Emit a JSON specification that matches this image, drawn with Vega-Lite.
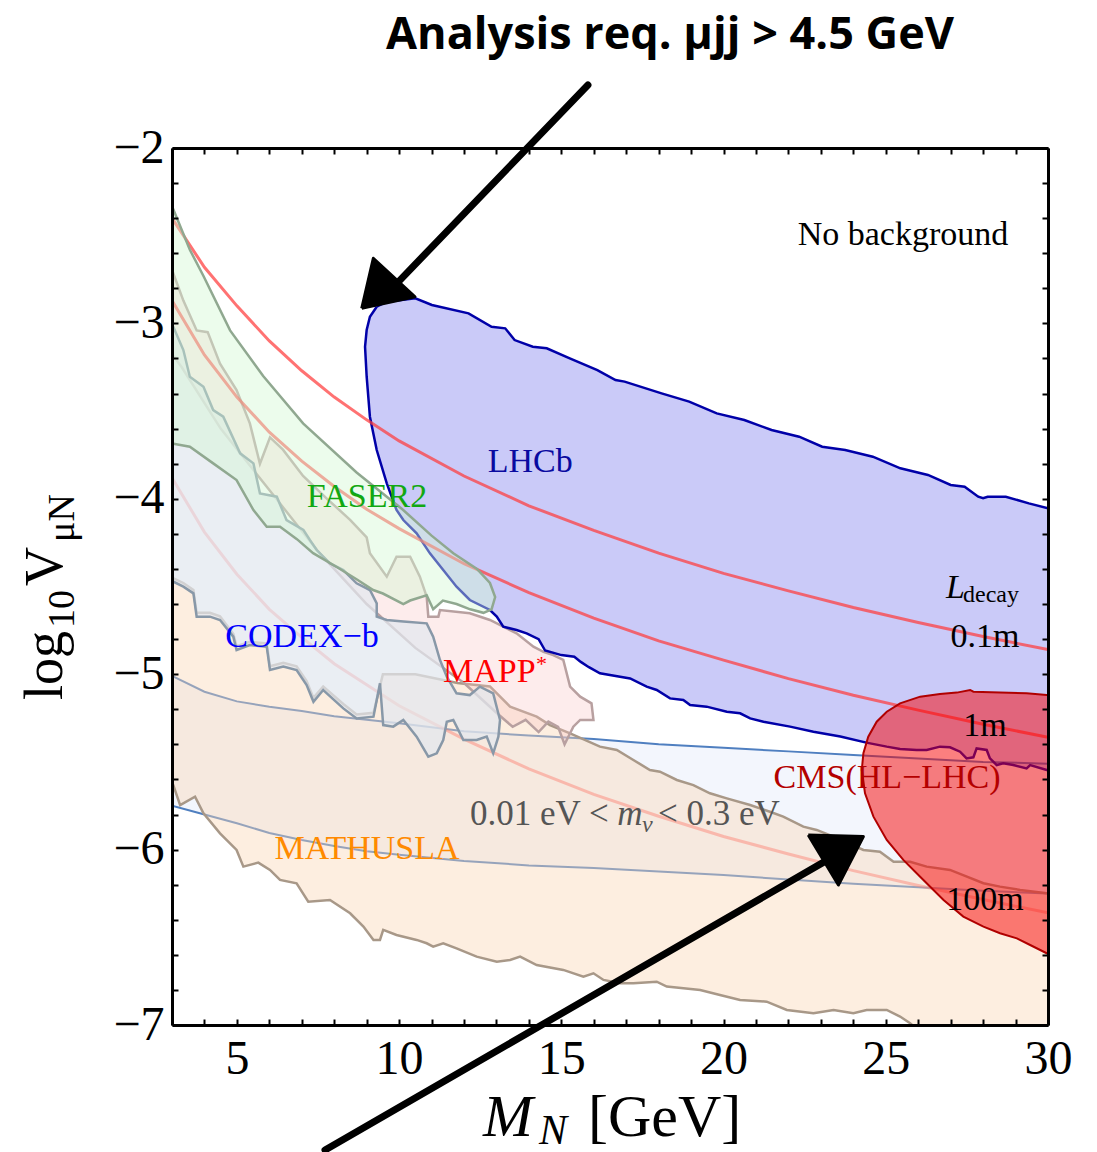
{
"$schema": "https://vega.github.io/schema/vega-lite/v6.json",
"width": 876, "height": 877,
"autosize": {"type": "none"},
"padding": {"left": 172, "top": 148, "right": 49, "bottom": 127},
"background": "white",
"config": {"view": {"stroke": null}, "font": "Liberation Serif"},
"resolve": {"axis": {"x": "independent", "y": "independent"}},
"datasets": {
"band": [
{"x":3,"y":-5.75,"y2":-5.01},{"x":4,"y":-5.80,"y2":-5.10},{"x":5,"y":-5.85,"y2":-5.155},{"x":6,"y":-5.905,"y2":-5.185},{"x":7,"y":-5.945,"y2":-5.21},{"x":8,"y":-5.98,"y2":-5.24},{"x":9,"y":-6.01,"y2":-5.26},{"x":10,"y":-6.03,"y2":-5.28},{"x":12,"y":-6.065,"y2":-5.325},{"x":14,"y":-6.09,"y2":-5.35},{"x":16,"y":-6.105,"y2":-5.37},{"x":18,"y":-6.125,"y2":-5.40},{"x":20,"y":-6.145,"y2":-5.42},{"x":22,"y":-6.17,"y2":-5.44},{"x":24,"y":-6.195,"y2":-5.46},{"x":26,"y":-6.215,"y2":-5.48},{"x":28,"y":-6.235,"y2":-5.50},{"x":30,"y":-6.25,"y2":-5.51}],
"curves": [
{"c":"0.1m","x":3,"y":-2.40},{"c":"0.1m","x":4,"y":-2.68},{"c":"0.1m","x":5,"y":-2.90},{"c":"0.1m","x":6,"y":-3.10},{"c":"0.1m","x":7,"y":-3.27},{"c":"0.1m","x":8,"y":-3.42},{"c":"0.1m","x":9,"y":-3.55},{"c":"0.1m","x":10,"y":-3.67},{"c":"0.1m","x":12,"y":-3.87},{"c":"0.1m","x":14,"y":-4.04},{"c":"0.1m","x":16,"y":-4.18},{"c":"0.1m","x":18,"y":-4.31},{"c":"0.1m","x":20,"y":-4.425},{"c":"0.1m","x":22,"y":-4.525},{"c":"0.1m","x":24,"y":-4.62},{"c":"0.1m","x":26,"y":-4.705},{"c":"0.1m","x":28,"y":-4.785},{"c":"0.1m","x":30,"y":-4.86},
{"c":"1m","x":3,"y":-2.87},{"c":"1m","x":4,"y":-3.18},{"c":"1m","x":5,"y":-3.42},{"c":"1m","x":6,"y":-3.62},{"c":"1m","x":7,"y":-3.785},{"c":"1m","x":8,"y":-3.93},{"c":"1m","x":9,"y":-4.06},{"c":"1m","x":10,"y":-4.17},{"c":"1m","x":12,"y":-4.37},{"c":"1m","x":14,"y":-4.535},{"c":"1m","x":16,"y":-4.68},{"c":"1m","x":18,"y":-4.81},{"c":"1m","x":20,"y":-4.92},{"c":"1m","x":22,"y":-5.025},{"c":"1m","x":24,"y":-5.12},{"c":"1m","x":26,"y":-5.205},{"c":"1m","x":28,"y":-5.285},{"c":"1m","x":30,"y":-5.36},
{"c":"100m","x":3,"y":-3.88},{"c":"100m","x":4,"y":-4.19},{"c":"100m","x":5,"y":-4.43},{"c":"100m","x":6,"y":-4.63},{"c":"100m","x":7,"y":-4.79},{"c":"100m","x":8,"y":-4.94},{"c":"100m","x":9,"y":-5.06},{"c":"100m","x":10,"y":-5.18},{"c":"100m","x":12,"y":-5.37},{"c":"100m","x":14,"y":-5.54},{"c":"100m","x":16,"y":-5.685},{"c":"100m","x":18,"y":-5.81},{"c":"100m","x":20,"y":-5.925},{"c":"100m","x":22,"y":-6.025},{"c":"100m","x":24,"y":-6.12},{"c":"100m","x":26,"y":-6.205},{"c":"100m","x":28,"y":-6.285},{"c":"100m","x":30,"y":-6.36}],
"lhcb": [
{"i":0,"x":9.31,"y":-2.905},{"i":1,"x":9.62,"y":-2.876},{"i":2,"x":10.13,"y":-2.865},{"i":3,"x":10.5,"y":-2.857},{"i":4,"x":11.01,"y":-2.895},{"i":5,"x":12.14,"y":-2.943},{"i":6,"x":12.85,"y":-3.019},{"i":7,"x":13.27,"y":-3.028},{"i":8,"x":13.56,"y":-3.095},{"i":9,"x":14.12,"y":-3.133},{"i":10,"x":14.55,"y":-3.142},{"i":11,"x":15.26,"y":-3.199},{"i":12,"x":16.11,"y":-3.266},{"i":13,"x":16.67,"y":-3.323},{"i":14,"x":16.95,"y":-3.332},{"i":15,"x":18.09,"y":-3.399},{"i":16,"x":18.94,"y":-3.446},{"i":17,"x":19.79,"y":-3.513},{"i":18,"x":20.64,"y":-3.551},{"i":19,"x":21.48,"y":-3.608},{"i":20,"x":22.33,"y":-3.646},{"i":21,"x":23.04,"y":-3.703},{"i":22,"x":23.75,"y":-3.722},{"i":23,"x":24.6,"y":-3.76},{"i":24,"x":25.45,"y":-3.826},{"i":25,"x":26.3,"y":-3.864},{"i":26,"x":27.0,"y":-3.921},{"i":27,"x":27.43,"y":-3.931},{"i":28,"x":27.85,"y":-3.988},{"i":29,"x":28.0,"y":-3.997},{"i":30,"x":28.14,"y":-3.988},{"i":31,"x":28.7,"y":-3.988},{"i":32,"x":29.41,"y":-4.026},{"i":33,"x":30.0,"y":-4.054},{"i":34,"x":30.4,"y":-4.07},{"i":35,"x":30.4,"y":-5.55},
{"i":36,"x":29.96,"y":-5.546},{"i":37,"x":29.45,"y":-5.518},{"i":38,"x":29.34,"y":-5.537},{"i":39,"x":28.93,"y":-5.518},{"i":40,"x":28.62,"y":-5.508},{"i":41,"x":28.42,"y":-5.518},{"i":42,"x":28.21,"y":-5.48},{"i":43,"x":28.11,"y":-5.432},{"i":44,"x":27.8,"y":-5.423},{"i":45,"x":27.7,"y":-5.474},{"i":46,"x":27.49,"y":-5.48},{"i":47,"x":27.29,"y":-5.442},{"i":48,"x":26.98,"y":-5.417},{"i":49,"x":26.67,"y":-5.413},{"i":50,"x":26.26,"y":-5.432},{"i":51,"x":25.95,"y":-5.432},{"i":52,"x":25.44,"y":-5.426},{"i":53,"x":25.03,"y":-5.413},{"i":54,"x":24.4,"y":-5.39},{"i":55,"x":23.6,"y":-5.355},{"i":56,"x":22.77,"y":-5.328},{"i":57,"x":22.05,"y":-5.299},{"i":58,"x":21.23,"y":-5.271},{"i":59,"x":20.82,"y":-5.252},{"i":60,"x":20.51,"y":-5.223},{"i":61,"x":20.1,"y":-5.214},{"i":62,"x":19.48,"y":-5.185},{"i":63,"x":18.97,"y":-5.176},{"i":64,"x":18.76,"y":-5.147},{"i":65,"x":18.35,"y":-5.138},{"i":66,"x":17.94,"y":-5.09},{"i":67,"x":17.63,"y":-5.071},{"i":68,"x":17.12,"y":-5.024},{"i":69,"x":16.81,"y":-5.014},{"i":70,"x":16.19,"y":-4.995},{"i":71,"x":15.85,"y":-4.96},{"i":72,"x":15.6,"y":-4.93},{"i":73,"x":15.4,"y":-4.9},{"i":74,"x":15.0,"y":-4.891},{"i":75,"x":14.5,"y":-4.865},{"i":76,"x":14.3,"y":-4.8},{"i":77,"x":13.93,"y":-4.767},{"i":78,"x":13.62,"y":-4.748},{"i":79,"x":13.21,"y":-4.729},{"i":80,"x":13.01,"y":-4.672},{"i":81,"x":12.8,"y":-4.634},{"i":82,"x":12.18,"y":-4.577},{"i":83,"x":11.77,"y":-4.501},{"i":84,"x":11.36,"y":-4.406},{"i":85,"x":10.95,"y":-4.311},{"i":86,"x":10.54,"y":-4.197},{"i":87,"x":10.13,"y":-4.121},{"i":88,"x":9.92,"y":-4.064},{"i":89,"x":9.62,"y":-3.912},{"i":90,"x":9.31,"y":-3.722},{"i":91,"x":9.1,"y":-3.532},{"i":92,"x":9.0,"y":-3.304},{"i":93,"x":8.95,"y":-3.133},{"i":94,"x":9.0,"y":-3.038},{"i":95,"x":9.1,"y":-2.962},{"i":96,"x":9.31,"y":-2.905}],
"cms": [
{"i":0,"x":30.4,"y":-5.115},{"i":1,"x":29.96,"y":-5.119},{"i":2,"x":29.34,"y":-5.109},{"i":3,"x":28.52,"y":-5.105},{"i":4,"x":27.7,"y":-5.1},{"i":5,"x":27.6,"y":-5.09},{"i":6,"x":27.19,"y":-5.105},{"i":7,"x":26.67,"y":-5.113},{"i":8,"x":26.06,"y":-5.128},{"i":9,"x":25.44,"y":-5.166},{"i":10,"x":25.03,"y":-5.214},{"i":11,"x":24.72,"y":-5.271},{"i":12,"x":24.46,"y":-5.356},{"i":13,"x":24.31,"y":-5.451},{"i":14,"x":24.26,"y":-5.546},{"i":15,"x":24.36,"y":-5.679},{"i":16,"x":24.62,"y":-5.812},{"i":17,"x":25.03,"y":-5.945},{"i":18,"x":25.54,"y":-6.059},{"i":19,"x":26.16,"y":-6.173},{"i":20,"x":26.78,"y":-6.287},{"i":21,"x":27.39,"y":-6.382},{"i":22,"x":28.01,"y":-6.439},{"i":23,"x":28.52,"y":-6.477},{"i":24,"x":29.04,"y":-6.506},{"i":25,"x":29.45,"y":-6.544},{"i":26,"x":29.96,"y":-6.591},{"i":27,"x":30.4,"y":-6.63},{"i":28,"x":30.4,"y":-5.115}],
"math": [
{"i":0,"x":2.9,"y":-4.44},{"i":1,"x":3.35,"y":-4.48},{"i":2,"x":3.66,"y":-4.52},{"i":3,"x":3.76,"y":-4.65},{"i":4,"x":4.17,"y":-4.65},{"i":5,"x":4.48,"y":-4.67},{"i":6,"x":4.89,"y":-4.77},{"i":7,"x":4.99,"y":-4.84},{"i":8,"x":5.4,"y":-4.815},{"i":9,"x":5.92,"y":-4.825},{"i":10,"x":6.02,"y":-4.955},{"i":11,"x":6.43,"y":-4.935},{"i":12,"x":6.84,"y":-4.955},{"i":13,"x":7.15,"y":-5.04},{"i":14,"x":7.36,"y":-5.135},{"i":15,"x":7.66,"y":-5.07},{"i":16,"x":8.28,"y":-5.17},{"i":17,"x":8.69,"y":-5.23},{"i":18,"x":9.21,"y":-5.22},{"i":19,"x":9.5,"y":-5.0},{"i":20,"x":10.5,"y":-5.0},{"i":21,"x":11.8,"y":-5.05},{"i":22,"x":12.8,"y":-5.07},{"i":23,"x":13.42,"y":-5.185},{"i":24,"x":14.24,"y":-5.242},{"i":25,"x":14.65,"y":-5.29},{"i":26,"x":15.27,"y":-5.337},{"i":27,"x":16.19,"y":-5.413},{"i":28,"x":16.71,"y":-5.432},{"i":29,"x":17.22,"y":-5.489},{"i":30,"x":17.73,"y":-5.546},{"i":31,"x":18.04,"y":-5.556},{"i":32,"x":18.56,"y":-5.603},{"i":33,"x":19.07,"y":-5.632},{"i":34,"x":19.58,"y":-5.679},{"i":35,"x":20.1,"y":-5.708},{"i":36,"x":20.82,"y":-5.746},{"i":37,"x":21.43,"y":-5.784},{"i":38,"x":21.84,"y":-5.812},{"i":39,"x":22.46,"y":-5.869},{"i":40,"x":22.87,"y":-5.888},{"i":41,"x":23.39,"y":-5.926},{"i":42,"x":23.8,"y":-5.96},{"i":43,"x":24.31,"y":-6.002},{"i":44,"x":24.82,"y":-6.012},{"i":45,"x":25.24,"y":-6.069},{"i":46,"x":25.75,"y":-6.069},{"i":47,"x":26.26,"y":-6.097},{"i":48,"x":26.98,"y":-6.116},{"i":49,"x":27.5,"y":-6.154},{"i":50,"x":28.01,"y":-6.192},{"i":51,"x":28.52,"y":-6.211},{"i":52,"x":29.14,"y":-6.23},{"i":53,"x":29.96,"y":-6.249},{"i":54,"x":30.4,"y":-6.26},{"i":55,"x":30.4,"y":-7.2},
{"i":56,"x":26.2,"y":-7.2},{"i":57,"x":26.0,"y":-7.03},{"i":58,"x":25.75,"y":-6.99},{"i":59,"x":25.44,"y":-6.952},{"i":60,"x":25.03,"y":-6.914},{"i":61,"x":24.41,"y":-6.914},{"i":62,"x":24.0,"y":-6.933},{"i":63,"x":23.39,"y":-6.914},{"i":64,"x":22.77,"y":-6.933},{"i":65,"x":21.95,"y":-6.914},{"i":66,"x":21.33,"y":-6.867},{"i":67,"x":20.51,"y":-6.857},{"i":68,"x":19.89,"y":-6.829},{"i":69,"x":19.28,"y":-6.8},{"i":70,"x":18.25,"y":-6.781},{"i":71,"x":17.94,"y":-6.753},{"i":72,"x":17.22,"y":-6.762},{"i":73,"x":16.81,"y":-6.762},{"i":74,"x":16.3,"y":-6.743},{"i":75,"x":15.99,"y":-6.705},{"i":76,"x":15.68,"y":-6.724},{"i":77,"x":15.06,"y":-6.686},{"i":78,"x":14.24,"y":-6.658},{"i":79,"x":13.73,"y":-6.61},{"i":80,"x":13.42,"y":-6.629},{"i":81,"x":13.01,"y":-6.639},{"i":82,"x":12.39,"y":-6.61},{"i":83,"x":11.77,"y":-6.563},{"i":84,"x":11.36,"y":-6.534},{"i":85,"x":11.05,"y":-6.553},{"i":86,"x":10.85,"y":-6.534},{"i":87,"x":10.54,"y":-6.515},{"i":88,"x":9.92,"y":-6.487},{"i":89,"x":9.51,"y":-6.458},{"i":90,"x":9.41,"y":-6.515},{"i":91,"x":9.21,"y":-6.515},{"i":92,"x":8.9,"y":-6.439},{"i":93,"x":8.49,"y":-6.363},{"i":94,"x":7.87,"y":-6.287},{"i":95,"x":7.2,"y":-6.297},{"i":96,"x":6.84,"y":-6.192},{"i":97,"x":6.33,"y":-6.173},{"i":98,"x":6.02,"y":-6.116},{"i":99,"x":5.66,"y":-6.074},{"i":100,"x":5.2,"y":-6.097},{"i":101,"x":4.99,"y":-6.002},{"i":102,"x":4.48,"y":-5.907},{"i":103,"x":3.97,"y":-5.793},{"i":104,"x":3.71,"y":-5.698},{"i":105,"x":3.25,"y":-5.746},{"i":106,"x":3.04,"y":-5.632},{"i":107,"x":2.9,"y":-5.6},{"i":108,"x":2.9,"y":-4.44}],
"codex": [
{"i":0,"x":2.9,"y":-3.0},{"i":1,"x":3.04,"y":-3.019},{"i":2,"x":3.35,"y":-3.152},{"i":3,"x":3.55,"y":-3.304},{"i":4,"x":3.97,"y":-3.361},{"i":5,"x":4.27,"y":-3.494},{"i":6,"x":4.58,"y":-3.532},{"i":7,"x":5.1,"y":-3.741},{"i":8,"x":5.51,"y":-3.798},{"i":9,"x":5.71,"y":-3.969},{"i":10,"x":6.23,"y":-3.988},{"i":11,"x":6.53,"y":-4.121},{"i":12,"x":7.05,"y":-4.178},{"i":13,"x":7.25,"y":-4.235},{"i":14,"x":7.46,"y":-4.292},{"i":15,"x":7.87,"y":-4.368},{"i":16,"x":8.28,"y":-4.406},{"i":17,"x":8.69,"y":-4.482},{"i":18,"x":9.1,"y":-4.52},{"i":19,"x":9.31,"y":-4.596},{"i":20,"x":9.31,"y":-4.672},{"i":21,"x":9.62,"y":-4.691},{"i":22,"x":10.13,"y":-4.7},{"i":23,"x":10.85,"y":-4.71},{"i":24,"x":11.05,"y":-4.786},{"i":25,"x":11.26,"y":-4.919},{"i":26,"x":11.47,"y":-5.014},{"i":27,"x":11.77,"y":-5.109},{"i":28,"x":12.18,"y":-5.119},{"i":29,"x":12.49,"y":-5.071},{"i":30,"x":12.9,"y":-5.109},{"i":31,"x":13.11,"y":-5.261},{"i":32,"x":13.06,"y":-5.356},{"i":33,"x":12.9,"y":-5.451},
{"i":34,"x":12.7,"y":-5.356},{"i":35,"x":12.39,"y":-5.375},{"i":36,"x":11.98,"y":-5.375},{"i":37,"x":11.67,"y":-5.261},{"i":38,"x":11.47,"y":-5.271},{"i":39,"x":11.36,"y":-5.375},{"i":40,"x":11.16,"y":-5.451},{"i":41,"x":10.9,"y":-5.47},{"i":42,"x":10.54,"y":-5.356},{"i":43,"x":10.13,"y":-5.261},{"i":44,"x":9.82,"y":-5.299},{"i":45,"x":9.51,"y":-5.29},{"i":46,"x":9.41,"y":-5.052},{"i":47,"x":9.21,"y":-5.242},{"i":48,"x":8.69,"y":-5.252},{"i":49,"x":8.28,"y":-5.195},{"i":50,"x":7.66,"y":-5.09},{"i":51,"x":7.36,"y":-5.157},{"i":52,"x":7.15,"y":-5.062},{"i":53,"x":6.84,"y":-4.976},{"i":54,"x":6.43,"y":-4.957},{"i":55,"x":6.02,"y":-4.976},{"i":56,"x":5.92,"y":-4.843},{"i":57,"x":5.4,"y":-4.834},{"i":58,"x":4.99,"y":-4.862},{"i":59,"x":4.89,"y":-4.786},{"i":60,"x":4.48,"y":-4.691},{"i":61,"x":4.17,"y":-4.672},{"i":62,"x":3.76,"y":-4.672},{"i":63,"x":3.66,"y":-4.539},{"i":64,"x":3.35,"y":-4.501},{"i":65,"x":2.94,"y":-4.463},{"i":66,"x":2.9,"y":-4.46},{"i":67,"x":2.9,"y":-3.0}],
"mapp": [
{"i":0,"x":2.9,"y":-2.70},{"i":1,"x":3.03,"y":-2.71},{"i":2,"x":3.35,"y":-2.87},{"i":3,"x":3.76,"y":-3.04},{"i":4,"x":4.1,"y":-3.05},{"i":5,"x":4.48,"y":-3.23},{"i":6,"x":4.99,"y":-3.38},{"i":7,"x":5.4,"y":-3.57},{"i":8,"x":5.71,"y":-3.80},{"i":9,"x":6.02,"y":-3.65},{"i":10,"x":6.42,"y":-3.72},{"i":11,"x":7.04,"y":-3.87},{"i":12,"x":7.78,"y":-4.0},{"i":13,"x":8.49,"y":-4.12},{"i":14,"x":9.0,"y":-4.22},{"i":15,"x":9.1,"y":-4.311},{"i":16,"x":9.62,"y":-4.444},{"i":17,"x":9.92,"y":-4.33},{"i":18,"x":10.34,"y":-4.33},{"i":19,"x":10.64,"y":-4.444},{"i":20,"x":10.85,"y":-4.558},{"i":21,"x":10.9,"y":-4.672},{"i":22,"x":11.21,"y":-4.672},{"i":23,"x":11.26,"y":-4.634},{"i":24,"x":12.18,"y":-4.653},{"i":25,"x":12.8,"y":-4.691},{"i":26,"x":13.21,"y":-4.729},{"i":27,"x":13.62,"y":-4.767},{"i":28,"x":14.14,"y":-4.843},{"i":29,"x":14.45,"y":-4.872},{"i":30,"x":14.75,"y":-4.891},{"i":31,"x":15.06,"y":-4.919},{"i":32,"x":15.27,"y":-5.071},{"i":33,"x":15.58,"y":-5.128},{"i":34,"x":15.93,"y":-5.166},{"i":35,"x":15.99,"y":-5.261},{"i":36,"x":15.58,"y":-5.261},{"i":37,"x":15.37,"y":-5.299},{"i":38,"x":15.27,"y":-5.337},{"i":39,"x":15.1,"y":-5.40},{"i":40,"x":14.9,"y":-5.30},{"i":41,"x":14.6,"y":-5.27},{"i":42,"x":14.3,"y":-5.33},{"i":43,"x":13.9,"y":-5.26},{"i":44,"x":13.5,"y":-5.30},{"i":45,"x":13.0,"y":-5.22},{"i":46,"x":12.0,"y":-5.05},{"i":47,"x":10.5,"y":-4.85},{"i":48,"x":9,"y":-4.6},{"i":49,"x":7.5,"y":-4.3},{"i":50,"x":6,"y":-3.95},{"i":51,"x":4.5,"y":-3.6},{"i":52,"x":3.3,"y":-3.25},{"i":53,"x":2.9,"y":-3.15},{"i":54,"x":2.9,"y":-2.70}],
"faser": [
{"i":0,"x":2.9,"y":-2.30},{"i":1,"x":3.04,"y":-2.35},{"i":2,"x":3.55,"y":-2.58},{"i":3,"x":3.97,"y":-2.73},{"i":4,"x":4.79,"y":-3.04},{"i":5,"x":5.81,"y":-3.30},{"i":6,"x":7.04,"y":-3.57},{"i":7,"x":8.69,"y":-3.85},{"i":8,"x":10.1,"y":-4.06},{"i":9,"x":11.0,"y":-4.21},{"i":10,"x":11.67,"y":-4.31},{"i":11,"x":12.4,"y":-4.40},{"i":12,"x":12.8,"y":-4.48},{"i":13,"x":12.96,"y":-4.56},{"i":14,"x":12.85,"y":-4.63},{"i":15,"x":12.6,"y":-4.65},{"i":16,"x":12.19,"y":-4.63},{"i":17,"x":11.77,"y":-4.60},{"i":18,"x":11.35,"y":-4.58},{"i":19,"x":11.05,"y":-4.63},{"i":20,"x":10.85,"y":-4.55},{"i":21,"x":10.34,"y":-4.58},{"i":22,"x":10.13,"y":-4.6},{"i":23,"x":9.5,"y":-4.54},{"i":24,"x":9.2,"y":-4.52},{"i":25,"x":8.7,"y":-4.46},{"i":26,"x":8.09,"y":-4.39},{"i":27,"x":7.35,"y":-4.31},{"i":28,"x":6.85,"y":-4.23},{"i":29,"x":6.33,"y":-4.16},{"i":30,"x":5.92,"y":-4.159},{"i":31,"x":5.51,"y":-4.064},{"i":32,"x":4.99,"y":-3.893},{"i":33,"x":4.27,"y":-3.798},{"i":34,"x":3.55,"y":-3.703},{"i":35,"x":3.0,"y":-3.684},{"i":36,"x":2.9,"y":-3.68},{"i":37,"x":2.9,"y":-2.30}],
"arrowShaft": [
{"a":"top","i":0,"x":15.82,"y":-1.641},{"a":"top","i":1,"x":9.94,"y":-2.77},
{"a":"bot","i":0,"x":7.716,"y":-7.713},{"a":"bot","i":1,"x":23.1,"y":-6.07}],
"arrowHead": [
{"a":"top","i":0,"x":8.848,"y":-2.914},{"a":"top","i":1,"x":9.205,"y":-2.629},{"a":"top","i":2,"x":10.49,"y":-2.848},{"a":"top","i":3,"x":8.848,"y":-2.914},
{"a":"bot","i":0,"x":22.61,"y":-5.917},{"a":"bot","i":1,"x":24.31,"y":-5.926},{"a":"bot","i":2,"x":23.54,"y":-6.202},{"a":"bot","i":3,"x":22.61,"y":-5.917}],
"labels": [
{"k":"blk","x":25.53,"y":-2.496,"t":"No background"},
{"k":"blk","x":28.06,"y":-4.788,"t":"0.1m"},
{"k":"blk","x":28.06,"y":-5.295,"t":"1m"},
{"k":"blk","x":28.06,"y":-6.287,"t":"100m"},
{"k":"lhcb","x":14.04,"y":-3.79,"t":"LHCb"},
{"k":"faser","x":9.01,"y":-3.99,"t":"FASER2"},
{"k":"codex","x":7.007,"y":-4.788,"t":"CODEX−b"},
{"k":"math","x":9.01,"y":-5.997,"t":"MATHUSLA"},
{"k":"cms","x":25.04,"y":-5.592,"t":"CMS(HL−LHC)"}],
"leftText": [
{"k":"mapp","x":11.354,"y":-4.987,"t":"MAPP"},
{"k":"mappstar","x":14.22,"y":-4.942,"t":"*"},
{"k":"nu1","x":12.186,"y":-5.86,"t":"0.01 eV <"},
{"k":"nu2","x":16.72,"y":-5.86,"t":"m"},
{"k":"nu3","x":17.49,"y":-5.90,"t":"ν"},
{"k":"nu1","x":17.98,"y":-5.86,"t":"< 0.3 eV"},
{"k":"L","x":26.86,"y":-4.566,"t":"L"},
{"k":"decay","x":27.38,"y":-4.588,"t":"decay"},
{"k":"xt","x":12.587,"y":-7.633,"t":"M"},
{"k":"xsub","x":14.31,"y":-7.68,"t":"N"},
{"k":"xt2","x":15.82,"y":-7.633,"t":"[GeV]"}],
"ytitle": [
{"k":"big","x":-0.39,"y":-5.147,"t":"log"},
{"k":"sub","x":-0.02,"y":-4.737,"t":"10"},
{"k":"big","x":-0.39,"y":-4.497,"t":"V"},
{"k":"sub","x":-0.02,"y":-4.246,"t":"μN"}],
"title": [{"x":18.35,"y":-1.356,"t":"Analysis req. μjj > 4.5 GeV"}]
},
"encoding": {
"x": {"field": "x", "type": "quantitative", "scale": {"domain": [3, 30], "nice": false, "zero": false}, "axis": null},
"y": {"field": "y", "type": "quantitative", "scale": {"domain": [-7, -2], "nice": false, "zero": false}, "axis": null}
},
"layer": [
{"data": {"name": "band"}, "mark": {"type": "area", "color": "#f3f6fd", "clip": true},
 "encoding": {
  "x": {"field": "x", "type": "quantitative", "scale": {"domain": [3, 30], "nice": false, "zero": false},
   "axis": {"orient": "bottom", "values": [3,4,5,6,7,8,9,10,11,12,13,14,15,16,17,18,19,20,21,22,23,24,25,26,27,28,29,30], "format": "d", "labelExpr": "datum.value % 5 === 0 ? datum.label : ''", "tickSize": -6, "tickWidth": 2, "tickColor": "black", "domain": true, "domainColor": "black", "domainWidth": 3, "labelFont": "Liberation Serif", "labelFontSize": 48, "labelColor": "black", "labelPadding": 16, "labelFlush": false, "labelOverlap": false, "title": null, "grid": false, "zindex": 1}},
  "y": {"field": "y", "type": "quantitative", "scale": {"domain": [-7, -2], "nice": false, "zero": false},
   "axis": {"orient": "left", "values": [-7,-6.8,-6.6,-6.4,-6.2,-6,-5.8,-5.6,-5.4,-5.2,-5,-4.8,-4.6,-4.4,-4.2,-4,-3.8,-3.6,-3.4,-3.2,-3,-2.8,-2.6,-2.4,-2.2,-2], "format": ".0f", "labelExpr": "abs(datum.value - round(datum.value)) < 0.01 ? datum.label : ''", "tickSize": -6, "tickWidth": 2, "tickColor": "black", "domain": true, "domainColor": "black", "domainWidth": 3, "labelFont": "Liberation Serif", "labelFontSize": 48, "labelColor": "black", "labelPadding": 14, "labelFlush": false, "labelOverlap": false, "title": null, "grid": false, "zindex": 1}},
  "y2": {"field": "y2"}}},
{"data": {"name": "band"}, "mark": {"type": "line", "color": "#4f7fc0", "strokeWidth": 2, "clip": true},
 "encoding": {
  "x": {"field": "x", "type": "quantitative", "scale": {"domain": [3, 30], "nice": false, "zero": false},
   "axis": {"orient": "top", "values": [3,4,5,6,7,8,9,10,11,12,13,14,15,16,17,18,19,20,21,22,23,24,25,26,27,28,29,30], "labels": false, "tickSize": -6, "tickWidth": 2, "tickColor": "black", "domain": true, "domainColor": "black", "domainWidth": 3, "title": null, "grid": false, "zindex": 1}},
  "y": {"field": "y2", "type": "quantitative", "scale": {"domain": [-7, -2], "nice": false, "zero": false},
   "axis": {"orient": "right", "values": [-7,-6.8,-6.6,-6.4,-6.2,-6,-5.8,-5.6,-5.4,-5.2,-5,-4.8,-4.6,-4.4,-4.2,-4,-3.8,-3.6,-3.4,-3.2,-3,-2.8,-2.6,-2.4,-2.2,-2], "labels": false, "tickSize": -6, "tickWidth": 2, "tickColor": "black", "domain": true, "domainColor": "black", "domainWidth": 3, "title": null, "grid": false, "zindex": 1}}}},
{"data": {"name": "band"}, "mark": {"type": "line", "color": "#4f7fc0", "strokeWidth": 2, "clip": true}, "encoding": {}},
{"data": {"name": "curves"}, "transform": [{"filter": "datum.c === '100m'"}], "mark": {"type": "line", "color": "#ff3c3c", "strokeOpacity": 0.45, "strokeWidth": 3, "clip": true}, "encoding": {}},
{"data": {"name": "math"}, "mark": {"type": "line", "fill": "#fad6b4", "fillOpacity": 0.42, "stroke": "#a89888", "strokeWidth": 2.5, "clip": true}, "encoding": {"order": {"field": "i", "type": "quantitative"}}},
{"data": {"name": "mapp"}, "mark": {"type": "line", "fill": "#f8c4c4", "fillOpacity": 0.32, "stroke": "#b8a0a0", "strokeWidth": 2.5, "clip": true}, "encoding": {"order": {"field": "i", "type": "quantitative"}}},
{"data": {"name": "codex"}, "mark": {"type": "line", "fill": "#e2e8ee", "fillOpacity": 0.72, "stroke": "#8898a8", "strokeWidth": 2.5, "clip": true}, "encoding": {"order": {"field": "i", "type": "quantitative"}}},
{"data": {"name": "lhcb"}, "mark": {"type": "line", "fill": "#2020e0", "fillOpacity": 0.24, "stroke": "#0000a8", "strokeWidth": 2.5, "clip": true}, "encoding": {"order": {"field": "i", "type": "quantitative"}}},
{"data": {"name": "curves"}, "transform": [{"filter": "datum.c !== '100m'"}], "mark": {"type": "line", "color": "#ff3c3c", "strokeOpacity": 0.72, "strokeWidth": 3, "clip": true}, "encoding": {"detail": {"field": "c"}}},
{"data": {"name": "faser"}, "mark": {"type": "line", "fill": "#d4f9d4", "fillOpacity": 0.43, "stroke": "#90a890", "strokeWidth": 2.5, "clip": true}, "encoding": {"order": {"field": "i", "type": "quantitative"}}},
{"data": {"name": "cms"}, "mark": {"type": "line", "fill": "#f80000", "fillOpacity": 0.5, "stroke": "#b00000", "strokeWidth": 2, "clip": true}, "encoding": {"order": {"field": "i", "type": "quantitative"}}},
{"data": {"name": "labels"}, "transform": [{"filter": "datum.k === 'blk'"}], "mark": {"type": "text", "font": "Liberation Serif", "fontSize": 34, "color": "black", "align": "center", "baseline": "middle"}, "encoding": {"text": {"field": "t"}}},
{"data": {"name": "labels"}, "transform": [{"filter": "datum.k === 'lhcb'"}], "mark": {"type": "text", "font": "Liberation Serif", "fontSize": 34, "color": "#0a0aa0", "align": "center", "baseline": "middle"}, "encoding": {"text": {"field": "t"}}},
{"data": {"name": "labels"}, "transform": [{"filter": "datum.k === 'faser'"}], "mark": {"type": "text", "font": "Liberation Serif", "fontSize": 34, "color": "#12a812", "align": "center", "baseline": "middle"}, "encoding": {"text": {"field": "t"}}},
{"data": {"name": "labels"}, "transform": [{"filter": "datum.k === 'codex'"}], "mark": {"type": "text", "font": "Liberation Serif", "fontSize": 34, "color": "#0000ff", "align": "center", "baseline": "middle"}, "encoding": {"text": {"field": "t"}}},
{"data": {"name": "labels"}, "transform": [{"filter": "datum.k === 'math'"}], "mark": {"type": "text", "font": "Liberation Serif", "fontSize": 34, "color": "#ff8a00", "align": "center", "baseline": "middle"}, "encoding": {"text": {"field": "t"}}},
{"data": {"name": "labels"}, "transform": [{"filter": "datum.k === 'cms'"}], "mark": {"type": "text", "font": "Liberation Serif", "fontSize": 34, "color": "#b40000", "align": "center", "baseline": "middle"}, "encoding": {"text": {"field": "t"}}},
{"data": {"name": "leftText"}, "transform": [{"filter": "datum.k === 'mapp'"}], "mark": {"type": "text", "font": "Liberation Serif", "fontSize": 34, "color": "#ff0000", "align": "left", "baseline": "middle"}, "encoding": {"text": {"field": "t"}}},
{"data": {"name": "leftText"}, "transform": [{"filter": "datum.k === 'mappstar'"}], "mark": {"type": "text", "font": "Liberation Serif", "fontSize": 22, "color": "#ff0000", "align": "left", "baseline": "middle"}, "encoding": {"text": {"field": "t"}}},
{"data": {"name": "leftText"}, "transform": [{"filter": "datum.k === 'nu1'"}], "mark": {"type": "text", "font": "Liberation Serif", "fontSize": 35, "color": "#555555", "align": "left", "baseline": "alphabetic"}, "encoding": {"text": {"field": "t"}}},
{"data": {"name": "leftText"}, "transform": [{"filter": "datum.k === 'nu2'"}], "mark": {"type": "text", "font": "Liberation Serif", "fontSize": 35, "fontStyle": "italic", "color": "#555555", "align": "left", "baseline": "alphabetic"}, "encoding": {"text": {"field": "t"}}},
{"data": {"name": "leftText"}, "transform": [{"filter": "datum.k === 'nu3'"}], "mark": {"type": "text", "font": "Liberation Serif", "fontSize": 24, "fontStyle": "italic", "color": "#555555", "align": "left", "baseline": "alphabetic"}, "encoding": {"text": {"field": "t"}}},
{"data": {"name": "leftText"}, "transform": [{"filter": "datum.k === 'L'"}], "mark": {"type": "text", "font": "Liberation Serif", "fontSize": 34, "fontStyle": "italic", "color": "black", "align": "left", "baseline": "alphabetic"}, "encoding": {"text": {"field": "t"}}},
{"data": {"name": "leftText"}, "transform": [{"filter": "datum.k === 'decay'"}], "mark": {"type": "text", "font": "Liberation Serif", "fontSize": 24, "color": "black", "align": "left", "baseline": "alphabetic"}, "encoding": {"text": {"field": "t"}}},
{"data": {"name": "leftText"}, "transform": [{"filter": "datum.k === 'xt'"}], "mark": {"type": "text", "font": "Liberation Serif", "fontSize": 60, "fontStyle": "italic", "color": "black", "align": "left", "baseline": "alphabetic"}, "encoding": {"text": {"field": "t"}}},
{"data": {"name": "leftText"}, "transform": [{"filter": "datum.k === 'xsub'"}], "mark": {"type": "text", "font": "Liberation Serif", "fontSize": 42, "fontStyle": "italic", "color": "black", "align": "left", "baseline": "alphabetic"}, "encoding": {"text": {"field": "t"}}},
{"data": {"name": "leftText"}, "transform": [{"filter": "datum.k === 'xt2'"}], "mark": {"type": "text", "font": "Liberation Serif", "fontSize": 60, "color": "black", "align": "left", "baseline": "alphabetic"}, "encoding": {"text": {"field": "t"}}},
{"data": {"name": "ytitle"}, "transform": [{"filter": "datum.k === 'big'"}], "mark": {"type": "text", "font": "Liberation Serif", "fontSize": 54, "color": "black", "align": "left", "baseline": "alphabetic", "angle": 270}, "encoding": {"text": {"field": "t"}}},
{"data": {"name": "ytitle"}, "transform": [{"filter": "datum.k === 'sub'"}], "mark": {"type": "text", "font": "Liberation Serif", "fontSize": 38, "color": "black", "align": "left", "baseline": "alphabetic", "angle": 270}, "encoding": {"text": {"field": "t"}}},
{"data": {"name": "title"}, "mark": {"type": "text", "font": "Open Sans", "fontWeight": "bold", "fontSize": 45, "color": "black", "align": "center", "baseline": "middle"}, "encoding": {"text": {"field": "t"}}},
{"data": {"name": "arrowShaft"}, "mark": {"type": "line", "color": "black", "strokeWidth": 7, "strokeCap": "round"}, "encoding": {"detail": {"field": "a"}, "order": {"field": "i", "type": "quantitative"}}},
{"data": {"name": "arrowHead"}, "mark": {"type": "line", "fill": "black", "stroke": "black", "strokeWidth": 3, "strokeJoin": "round"}, "encoding": {"detail": {"field": "a"}, "order": {"field": "i", "type": "quantitative"}}}
]
}
